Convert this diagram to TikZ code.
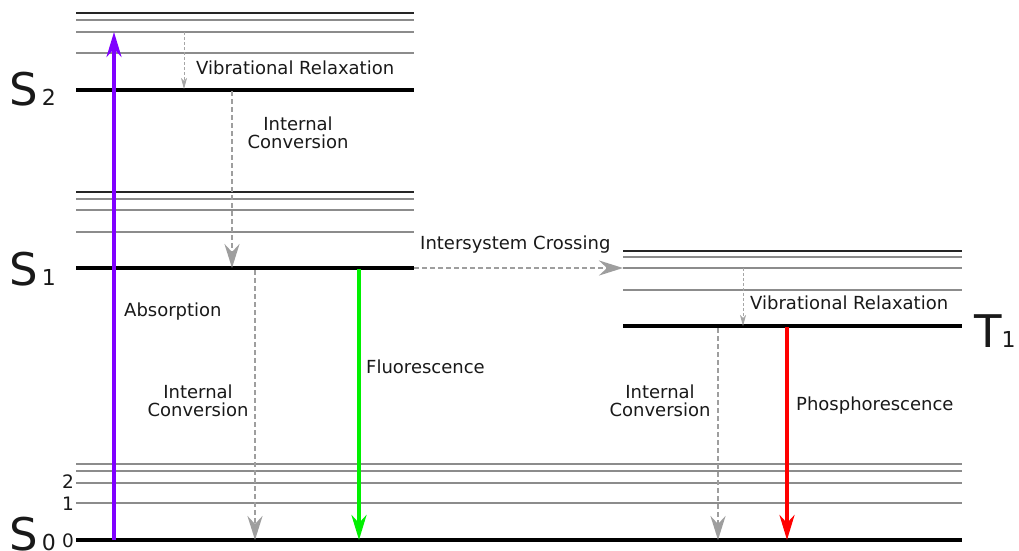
\documentclass[tikz,border=0pt]{standalone}
\usepackage{fontspec}
\setmainfont{DejaVu Sans}
\usetikzlibrary{arrows.meta}

\definecolor{absviolet}{RGB}{127,0,255}
\definecolor{fluogreen}{RGB}{0,240,0}
\definecolor{phosred}{RGB}{255,0,0}

\begin{document}
\begin{tikzpicture}[x=1pt,y=-1pt,
  every node/.style={font=\fontsize{18}{18.5}\selectfont, inner sep=0pt, text=black!90},
  ground/.style={line width=3.5pt},
  vib/.style={line width=1.6pt, black!45},
  topvib/.style={line width=1.1pt, black!85},
  relax/.style={-{Stealth[length=11pt,width=6pt,inset=3pt]}, black!35, line width=1pt, dash pattern=on 3pt off 2pt},
  conv/.style={-{Stealth[length=24pt,width=15pt,inset=8pt]}, black!38, line width=2.8pt, dash pattern=on 5pt off 3pt},
  emit/.style={-{Stealth[length=25pt,width=15pt,inset=8pt]}, line width=3.5pt},
  statelabel/.style={font=\fontsize{45}{45}\selectfont, anchor=base west},
  leveldigit/.style={font=\fontsize{18.5}{19}\selectfont, anchor=east}]
\useasboundingbox (0,0) rectangle (1019,550);

% singlet S2
\draw[topvib] (76,13) -- (414,13);
\draw[vib] (76,20) -- (414,20);
\draw[vib] (76,32) -- (414,32);
\draw[vib] (76,53) -- (414,53);
\draw[ground] (76,90) -- (414,90);

% singlet S1
\draw[topvib] (76,192) -- (414,192);
\draw[vib] (76,199) -- (414,199);
\draw[vib] (76,210) -- (414,210);
\draw[vib] (76,232) -- (414,232);
\draw[ground] (76,268) -- (414,268);

% triplet T1
\draw[topvib] (623,251) -- (962,251);
\draw[vib] (623,257) -- (962,257);
\draw[vib] (623,268) -- (962,268);
\draw[vib] (623,290) -- (962,290);
\draw[ground] (623,326) -- (962,326);

% ground state S0
\draw[vib] (76,464) -- (962,464);
\draw[vib] (76,471) -- (962,471);
\draw[vib] (76,483) -- (962,483);
\draw[vib] (76,503) -- (962,503);
\draw[ground] (76,540) -- (962,540);

% state names
\node[statelabel] (s2) at (9,105) {S\hspace{4pt}{\fontsize{22}{22}\selectfont 2}};
\node[statelabel] (s1) at (9,285) {S\hspace{4pt}{\fontsize{22}{22}\selectfont 1}};
\node[statelabel] (s0) at (9,550) {S\hspace{4pt}{\fontsize{22}{22}\selectfont 0}};
\node[statelabel] (t1) at (974,347) {T{\fontsize{22}{22}\selectfont 1}};
\node[leveldigit] (v0) at (74,541) {0};
\node[leveldigit] (v1) at (74,504) {1};
\node[leveldigit] (v2) at (74,482) {2};

% end points of the transitions
\coordinate (absfrom) at (114,540);
\coordinate (absto) at (114,32);
\coordinate (vrtop) at (184,32);
\coordinate (vrs2) at (184,89);
\coordinate (ics2) at (232,91);
\coordinate (ics1) at (232,268);
\coordinate (iscfrom) at (414,268);
\coordinate (iscto) at (623,268);
\coordinate (ics1from) at (255,270);
\coordinate (ics1to) at (255,540);
\coordinate (fluofrom) at (359,269);
\coordinate (fluoto) at (359,540);
\coordinate (vrtrip) at (743,268);
\coordinate (vrt1) at (743,326);
\coordinate (ict1from) at (718,328);
\coordinate (ict1to) at (718,540);
\coordinate (phosfrom) at (787,327);
\coordinate (phosto) at (787,540);

\draw[emit, absviolet] (absfrom) -- (absto);
\draw[relax] (vrtop) -- (vrs2);
\draw[conv] (ics2) -- (ics1);
\draw[conv] (iscfrom) -- (iscto);
\draw[conv] (ics1from) -- (ics1to);
\draw[emit, fluogreen] (fluofrom) -- (fluoto);
\draw[relax] (vrtrip) -- (vrt1);
\draw[conv] (ict1from) -- (ict1to);
\draw[emit, phosred] (phosfrom) -- (phosto);

% process labels
\node[anchor=west] (vrlabel) at (196,68) {Vibrational Relaxation};
\node[align=center] (icupper) at (298,133) {Internal\\Conversion};
\node[anchor=west] (isclabel) at (420,245) {Intersystem Crossing};
\node[anchor=west] (abslabel) at (124,312) {Absorption};
\node[align=center] (icleft) at (198,401) {Internal\\Conversion};
\node[anchor=west] (fluolabel) at (366,367) {Fluorescence};
\node[anchor=west] (vrtlabel) at (750,303) {Vibrational Relaxation};
\node[align=center] (icright) at (660,401) {Internal\\Conversion};
\node[anchor=west] (phoslabel) at (796,406) {Phosphorescence};
\end{tikzpicture}
\end{document}
